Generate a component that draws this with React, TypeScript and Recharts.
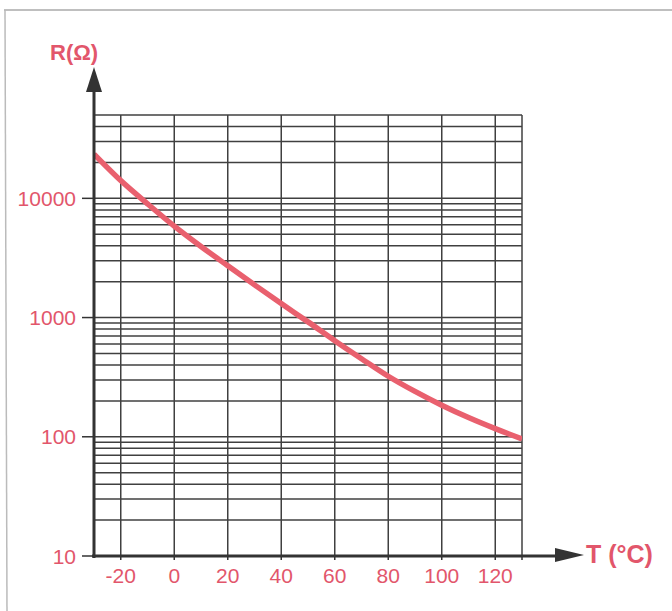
import { LineChart, Line, XAxis, YAxis, CartesianGrid } from 'recharts';

// temperature (°C) and resistance (Ω)
const temps = [-30, -20, -10, 0, 10, 20, 30, 40, 50, 60, 70, 80, 90, 100, 110, 120, 130];
const resist = [23500, 14100, 9000, 5850, 3950, 2720, 1880, 1310, 920, 640, 452, 322, 240, 184, 145, 117, 96];

const xTicks = [-20, 0, 20, 40, 60, 80, 100, 120, 130];
const yTicks = [
  10, 20, 30, 40, 50, 60, 70, 80, 90,
  100, 200, 300, 400, 500, 600, 700, 800, 900,
  1000, 2000, 3000, 4000, 5000, 6000, 7000, 8000, 9000,
  10000, 20000, 30000, 40000, 50000,
];
const yLabels = [10, 100, 1000, 10000];

const W = 672;
const H = 611;
const LEFT = 94;
const TOP = 115;
const RIGHT = 522;
const BOTTOM = 556;

const RED = '#e2566b';
const CURVE = '#e9606e';
const INK = '#333';
const FONT = '"Liberation Sans", Arial, sans-serif';

const data = temps.map((t, i) => ({ t, r: resist[i] }));

function YTick(props: any) {
  const { x, y, payload } = props;
  if (!yLabels.includes(payload.value)) return null;
  return (
    <g>
      <line x1={x + 6} x2={LEFT} y1={y} y2={y} stroke={INK} strokeWidth={1.5} />
      <text x={x} y={y} dy="0.36em" textAnchor="end" fill={RED} fontSize={21} fontFamily={FONT}>
        {payload.value}
      </text>
    </g>
  );
}

export default function App() {
  return (
    <div style={{ position: 'absolute', left: 0, top: 0, width: W, height: H, background: '#fff' }}>
      <LineChart
        width={W}
        height={H}
        data={data}
        margin={{ top: TOP, right: W - RIGHT, bottom: H - BOTTOM - 30, left: LEFT - 80 }}
      >
        <CartesianGrid stroke="#404040" strokeWidth={1.5} />
        <XAxis
          dataKey="t"
          type="number"
          domain={[-30, 130]}
          ticks={xTicks}
          allowDataOverflow
          height={30}
          axisLine={false}
          tickSize={4}
          tickMargin={8}
          tickLine={{ stroke: INK, strokeWidth: 1.5 }}
          tickFormatter={(v: number) => (v === 130 ? '' : String(v))}
          tick={{ fill: RED, fontSize: 21, fontFamily: FONT }}
        />
        <YAxis
          type="number"
          scale="log"
          domain={[10, 50000]}
          ticks={yTicks}
          allowDataOverflow
          width={80}
          axisLine={false}
          tickLine={false}
          tickSize={12}
          tickMargin={6}
          interval={0}
          tick={<YTick />}
        />
        <Line
          type="monotone"
          dataKey="r"
          stroke={CURVE}
          strokeWidth={5.5}
          dot={false}
          activeDot={false}
          isAnimationActive={false}
        />
      </LineChart>
      <svg
        width={W}
        height={H}
        style={{ position: 'absolute', left: 0, top: 0, pointerEvents: 'none' }}
      >
        <line x1={4} y1={10} x2={W} y2={10} stroke="#aaa" strokeWidth={1.5} />
        <line x1={5} y1={10} x2={7} y2={H} stroke="#bbb" strokeWidth={1.5} />
        <line x1={LEFT} y1={BOTTOM + 2} x2={LEFT} y2={88} stroke={INK} strokeWidth={3} />
        <polygon points={`${LEFT},67 ${LEFT - 8},92 ${LEFT + 8},92`} fill={INK} />
        <line x1={LEFT - 2} y1={BOTTOM} x2={558} y2={BOTTOM} stroke={INK} strokeWidth={3} />
        <polygon points={`584,${BOTTOM - 1} 555,${BOTTOM - 8} 555,${BOTTOM + 6}`} fill={INK} />
        <text x={50} y={60} fill={RED} fontSize={22} fontWeight="bold" fontFamily={FONT}>
          R(Ω)
        </text>
        <text x={586} y={563} fill={RED} fontSize={25} fontWeight="bold" fontFamily={FONT}>
          T (°C)
        </text>
      </svg>
    </div>
  );
}
